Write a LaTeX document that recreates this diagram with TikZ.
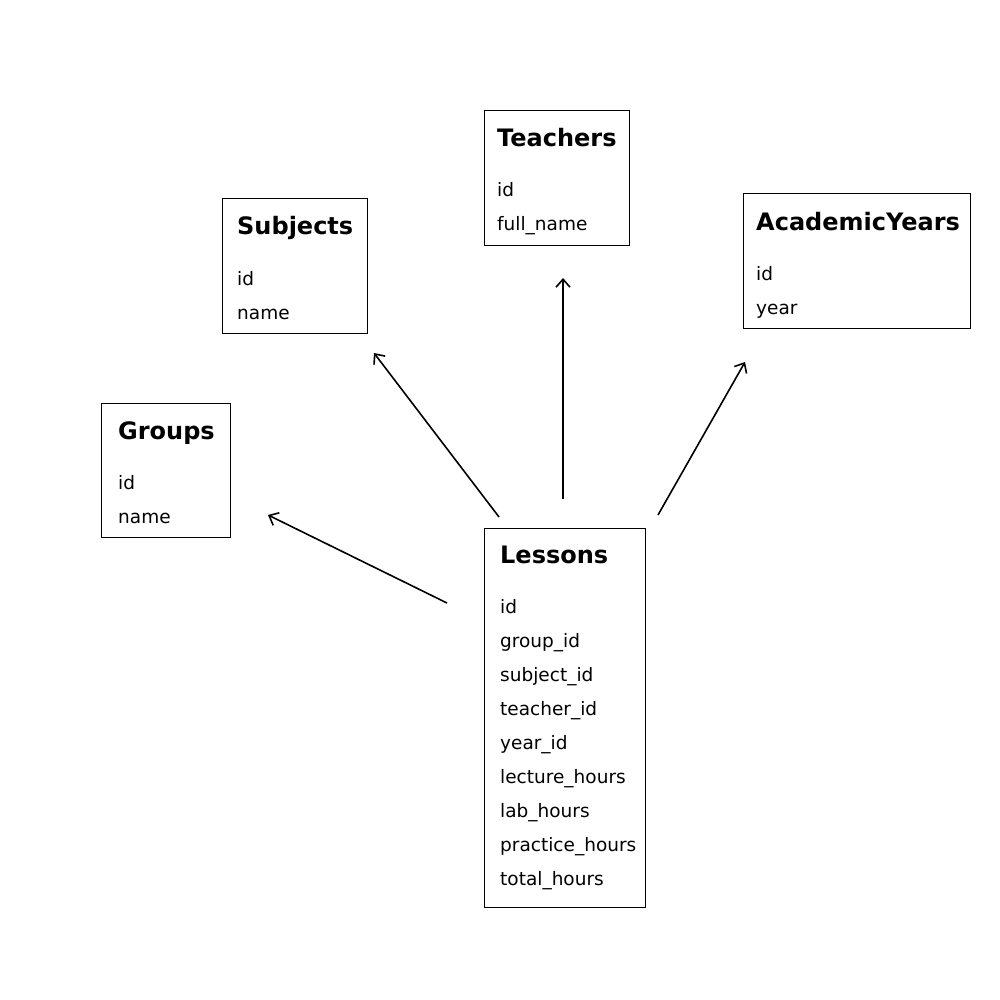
\documentclass[tikz,border=0pt]{standalone}
\usepackage{fontspec}
\setmainfont{DejaVu Sans}
\usetikzlibrary{arrows.meta}
\begin{document}
\begin{tikzpicture}[x=1pt,y=-1pt,
  tbl/.style={draw=black,line width=1pt,fill=white},
  ttl/.style={anchor=base west,inner sep=0pt,font=\fontsize{24}{28}\selectfont\bfseries},
  fld/.style={anchor=base west,inner sep=0pt,font=\fontsize{18.5}{22}\selectfont},
  rel/.style={line width=1.6pt,-{Straight Barb[length=8pt,width=14pt,line width=1.6pt]}}]
\useasboundingbox[fill=white] (0,0) rectangle (1000,1000);
% Teachers
\draw[tbl] (484,111) rectangle (629,245);
\node[ttl] (teachersT) at (497,147) {Teachers};
\node[fld] (teachers1) at (497,197) {id};
\node[fld] (teachers2) at (497,231) {full\_name};
% Subjects
\draw[tbl] (222,199) rectangle (367,333);
\node[ttl] (subjectsT) at (237,235) {Subjects};
\node[fld] (subjects1) at (237,285) {id};
\node[fld] (subjects2) at (237,319) {name};
% AcademicYears
\draw[tbl] (743,194) rectangle (970,328);
\node[ttl] (yearsT) at (756,230) {AcademicYears};
\node[fld] (years1) at (756,280) {id};
\node[fld] (years2) at (756,314) {year};
% Groups
\draw[tbl] (101,403) rectangle (230,537);
\node[ttl] (groupsT) at (118,439) {Groups};
\node[fld] (groups1) at (118,489) {id};
\node[fld] (groups2) at (118,523) {name};
% Lessons
\draw[tbl] (484,528) rectangle (645,907);
\node[ttl] (lessonsT) at (500,563) {Lessons};
\foreach \t [count=\i from 0] in {id,group\_id,subject\_id,teacher\_id,year\_id,lecture\_hours,lab\_hours,practice\_hours,total\_hours}
  \node[fld] (lessons\i) at (500,613+34*\i) {\t};
% arrows
\coordinate (gS) at (447,603); \coordinate (gE) at (268,515);
\coordinate (sS) at (499,517); \coordinate (sE) at (374,353);
\coordinate (tS) at (563,499); \coordinate (tE) at (563,278);
\coordinate (aS) at (658,515); \coordinate (aE) at (745,362);
\draw[rel] (gS) -- (gE);
\draw[rel] (sS) -- (sE);
\draw[rel] (tS) -- (tE);
\draw[rel] (aS) -- (aE);
\end{tikzpicture}
\end{document}
